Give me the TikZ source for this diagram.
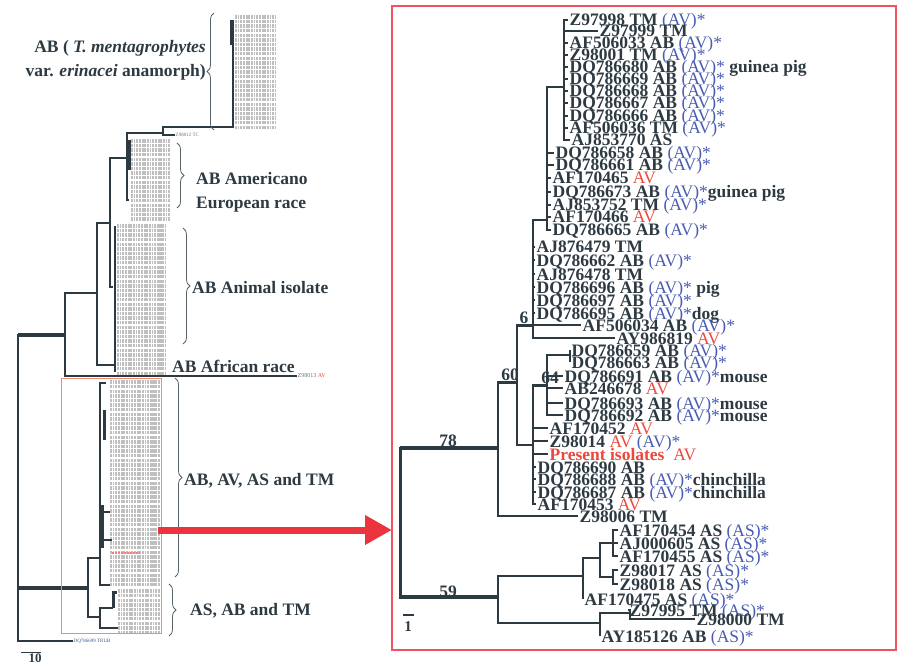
\documentclass[tikz,border=0pt]{standalone}
\usepackage{fontspec}
\setmainfont{Liberation Serif}
\usetikzlibrary{arrows.meta,decorations.pathreplacing}

\definecolor{treeink}{RGB}{45,58,66}
\definecolor{tagblue}{RGB}{72,92,178}
\definecolor{tagred}{RGB}{236,72,60}
\definecolor{framered}{RGB}{238,84,96}
\definecolor{arrowred}{RGB}{236,52,62}
\definecolor{boxline}{RGB}{242,140,112}

\newcommand{\tagav}{\textcolor{tagblue}{\mdseries\ (AV)*}}
\newcommand{\tagas}{\textcolor{tagblue}{\mdseries\ (AS)*}}
\newcommand{\redav}{\textcolor{tagred}{\mdseries AV}}
\newcommand{\leaffont}{\fontsize{17.5}{17.5}\selectfont\bfseries}
\newcommand{\grpfont}{\fontsize{17.5}{24}\selectfont\bfseries}

\tikzset{
  br/.style={draw=treeink, line width=1.6pt},
  stem/.style={draw=treeink, line width=3.8pt},
  leaf/.style={anchor=west, inner xsep=1.5pt, inner ysep=0pt, font=\leaffont,
    text=treeink, text height=12pt, text depth=0pt},
  boot/.style={font=\leaffont, text=treeink, inner sep=0pt},
  grp/.style={font=\grpfont, text=treeink, inner sep=0pt, anchor=west},
  tiny/.style={font=\fontsize{5}{5}\selectfont, text=treeink!70, inner sep=0.5pt, anchor=west},
  brace/.style={decorate, decoration={brace, amplitude=7pt}, draw=treeink!80, line width=0.8pt},
  ink/.style={draw=gray!50, line width=3.4pt, dash pattern=on 2.1pt off 0.7pt on 1.6pt off 0.9pt},
}

\begin{document}
\begin{tikzpicture}[x=1pt, y=-1pt]
    \useasboundingbox (0,0) rectangle (898,666);

    % ---- left: whole tree ----
    \coordinate (L0) at (18,500);  \coordinate (La) at (65,335);
    \coordinate (Lb) at (88,588);  \coordinate (Lc) at (97,293);
    \coordinate (Ld) at (110,223); \coordinate (Ld2) at (113,287);
    \coordinate (Lafr) at (115,365);
    \coordinate (Le) at (127,158); \coordinate (Le2) at (129,200);
    \coordinate (Lf) at (163,133); \coordinate (Lg) at (228,127);
    \coordinate (Lg1) at (233,20);
    \coordinate (Lh) at (100,558); \coordinate (Lh1) at (106,383);
    \coordinate (Lh2) at (110,585);
    \coordinate (Li) at (100,617); \coordinate (Lj) at (113,608);
    \coordinate (Lj1) at (117,592); \coordinate (Lk) at (118,628);

    % label blocks (unreadable leaf names)
    \foreach \xa/\xb/\ya/\n in {235/276/17/24, 131/170/141/17, 117/165/226/32,
                                110/160/382/44, 118/160/591/9}
        \foreach \k in {0,...,\n}
            \draw[ink] (\xa,{\ya+4.6*\k}) -- (\xb,{\ya+4.6*\k});
    \draw[draw=tagred!70, line width=2pt, dash pattern=on 2pt off 1pt] (112,553) -- (140,553);

    \node[tiny] (Z98012) at (175,135) {Z98012 TC};
    \node[tiny, font=\fontsize{6}{6}\selectfont] (Z98013) at (297,376) {Z98013 \textcolor{tagred}{AV}};
    \node[tiny, text=tagblue!70!treeink] (DQ786699) at (73,641) {DQ786699 TRUB};

    \draw[br, line width=2.4pt] (L0) |- (La);
    \draw[br, line width=2.4pt] (L0) |- (Lb);
    \draw[br] (L0) |- (DQ786699.west);
    \draw[stem, line width=4.5pt] (L0 |- La) -- (La);
    \draw[stem, line width=4.5pt] (L0 |- Lb) -- (Lb);
    \draw[br] (La) |- (Lc);  \draw[br] (La) |- (Z98013.west);
    \draw[br] (Lc) |- (Ld);  \draw[br] (Lc) |- (Lafr);
    \draw[br] (Lafr) ++(0,-5) -- ++(0,10);
    \draw[br] (Ld) |- (Le);  \draw[br] (Ld) |- (Ld2);
    \draw[br] (Le) |- (Lf);  \draw[br] (Le) |- (Le2);
    \draw[br] (Lf) |- (Lg);  \draw[br] (Lf) |- (Z98012.west);
    \draw[br] (Lg) -- (Lg -| Lg1) |- (Lg1);
    \draw[stem, line width=3pt] (231,20) -- (231,45);
    \draw[stem, line width=3pt] (129,140) -- (129,170);
    \draw[br] (115,226) -- (115,372);
    \draw[br] (Lb) |- (Lh);  \draw[br] (Lb) |- (Li);
    \draw[br] (Lh) |- (Lh1); \draw[br] (Lh) |- (Lh2);
    \draw[stem, line width=3pt] (104,410) -- (104,440);
    \draw[stem, line width=3pt] (102,505) -- (102,548);
    \draw[br] (102,512) -- (110,512);  \draw[br] (102,540) -- (112,540);
    \draw[br] (Li) |- (Lj);  \draw[br] (Li) |- (Lk);
    \draw[stem, line width=3pt] (Lj) |- (Lj1);

    \draw[draw=boxline, line width=0.7pt] (61,378) rectangle (161,633);

    % group labels and braces
    \node[grp, align=right, anchor=east] (tmlab) at (206,60)
        {AB ( \textit{T. mentagrophytes}\\var. \textit{erinacei} anamorph)};
    \draw[brace] (214,130) -- (214,13);
    \node[grp, align=left] (amlab) at (196,192) {AB Americano\\European race};
    \draw[brace] (177,143) -- (177,208);
    \node[grp] (anlab) at (192,288) {AB Animal isolate};
    \draw[brace] (183,228) -- (183,344);
    \node[grp] (aflab) at (172,366) {AB African race};
    \node[grp] (avlab) at (184,481) {AB, AV, AS and TM};
    \draw[brace] (175,378) -- (175,577);
    \node[grp] (aslab) at (190,611) {AS, AB and TM};
    \draw[brace] (169,584) -- (169,636);

    \draw[br, line width=1pt] (21,652) -- (41,652);
    \node[boot, font=\fontsize{13}{13}\selectfont\bfseries] (s10) at (35,658) {10};

    % ---- right: enlarged clade ----
    \draw[draw=framered, line width=2.6pt] (392,6) rectangle (896,650);

    \node[leaf] (Z97998) at (568,20) {Z97998 TM\tagav};
    \node[leaf] (Z97999) at (598,31) {Z97999 TM};
    \node[leaf] (AF506033) at (568,43) {AF506033 AB\tagav};
    \node[leaf] (Z98001) at (568,55) {Z98001 TM\tagav};
    \node[leaf] (DQ786680) at (568,67) {DQ786680 AB\tagav\ guinea pig};
    \node[leaf] (DQ786669) at (568,79) {DQ786669 AB\tagav};
    \node[leaf] (DQ786668) at (568,91) {DQ786668 AB\tagav};
    \node[leaf] (DQ786667) at (568,103) {DQ786667 AB\tagav};
    \node[leaf] (DQ786666) at (568,116) {DQ786666 AB\tagav};
    \node[leaf] (AF506036) at (568,128) {AF506036 TM\tagav};
    \node[leaf] (AJ853770) at (570,140) {AJ853770 AS};
    \node[leaf] (DQ786658) at (554,153) {DQ786658 AB\tagav};
    \node[leaf] (DQ786661) at (554,165) {DQ786661 AB\tagav};
    \node[leaf] (AF170465) at (551,178) {AF170465 \redav};
    \node[leaf] (DQ786673) at (551,192) {DQ786673 AB\tagav guinea pig};
    \node[leaf] (AJ853752) at (551,205) {AJ853752 TM\tagav};
    \node[leaf] (AF170466) at (551,217) {AF170466 \redav};
    \node[leaf] (DQ786665) at (551,230) {DQ786665 AB\tagav};
    \node[leaf] (AJ876479) at (535,247) {AJ876479 TM};
    \node[leaf] (DQ786662) at (535,260) {DQ786662 AB\tagav};
    \node[leaf] (AJ876478) at (535,274) {AJ876478 TM};
    \node[leaf] (DQ786696) at (535,287) {DQ786696 AB\tagav\ pig};
    \node[leaf] (DQ786697) at (535,300) {DQ786697 AB\tagav};
    \node[leaf] (DQ786695) at (535,313) {DQ786695 AB\tagav dog};
    \node[leaf] (AF506034) at (581,325) {AF506034 AB\tagav};
    \node[leaf] (AY986819) at (615,338) {AY986819 \redav};
    \node[leaf] (DQ786659) at (570,350) {DQ786659 AB\tagav};
    \node[leaf] (DQ786663) at (570,362) {DQ786663 AB\tagav};
    \node[leaf] (DQ786691) at (563,376) {DQ786691 AB\tagav mouse};
    \node[leaf] (AB246678) at (563,388) {AB246678 \redav};
    \node[leaf] (DQ786693) at (563,403) {DQ786693 AB\tagav mouse};
    \node[leaf] (DQ786692) at (563,415) {DQ786692 AB\tagav mouse};
    \node[leaf] (AF170452) at (548,428) {AF170452 \redav};
    \node[leaf] (Z98014) at (548,441) {Z98014 \redav\tagav};
    \node[leaf, text=tagred] (present) at (548,454) {Present isolates\ \ {\mdseries AV}};
    \node[leaf] (DQ786690) at (536,467) {DQ786690 AB};
    \node[leaf] (DQ786688) at (536,479) {DQ786688 AB\tagav chinchilla};
    \node[leaf] (DQ786687) at (536,492) {DQ786687 AB\tagav chinchilla};
    \node[leaf] (AF170453) at (536,504) {AF170453 \redav};
    \node[leaf] (Z98006) at (578,516) {Z98006 TM};
    \node[leaf] (AF170454) at (618,530) {AF170454 AS\tagas};
    \node[leaf] (AJ000605) at (618,543) {AJ000605 AS\tagas};
    \node[leaf] (AF170455) at (618,556) {AF170455 AS\tagas};
    \node[leaf] (Z98017) at (618,570) {Z98017 AS\tagas};
    \node[leaf] (Z98018) at (618,584) {Z98018 AS\tagas};
    \node[leaf] (AF170475) at (583,599) {AF170475 AS\tagas};
    \node[leaf] (Z97995) at (628,610) {Z97995 TM\tagas};
    \node[leaf] (Z98000) at (695,619) {Z98000 TM};
    \node[leaf] (AY185126) at (600,636) {AY185126 AB\tagas};

    \coordinate (r) at (400,520);
    \coordinate (n78) at (498,448);  \coordinate (n59) at (498,597);
    \coordinate (n60) at (517,382);  \coordinate (n6) at (533,325);
    \coordinate (nPI) at (533,445);  \coordinate (n64) at (547,385);
    \coordinate (nA) at (547,220);   \coordinate (nB) at (564,87);
    \coordinate (nC) at (570,355);
    \coordinate (nAS) at (583,576);  \coordinate (nAS1) at (600,558);
    \coordinate (nAS2) at (613,543); \coordinate (nAS3) at (613,577);
    \coordinate (nT) at (600,623);   \coordinate (nT1) at (630,613);

    \draw[br, line width=3pt] (r) |- (n78);
    \draw[br, line width=3pt] (r) |- (n59);
    \draw[stem] (r |- n78) -- (n78);
    \draw[stem] (r |- n59) -- (n59);
    \draw[br] (n78) |- (n60);  \draw[br] (n78) |- (Z98006.west);
    \draw[stem, line width=3pt] (n78 |- n60) -- (n60);
    \draw[br] (n60) |- (n6);   \draw[br] (n60) |- (nPI);
    \draw[stem, line width=3pt] (n60 |- n6) -- (n6);
    \draw[br] (n6) |- (nA);
    \draw[br] (nA) |- (nB);
    \draw[br] (nPI) |- (n64);
    \draw[stem, line width=3pt] (nPI |- n64) -- (n64);
    \draw[br] (n64) |- (nC);
    \draw[br] (n59) |- (nAS);  \draw[br] (n59) |- (nT);
    \draw[br] (nAS) |- (nAS1);
    \draw[br] (nAS1) |- (nAS2); \draw[br] (nAS1) |- (nAS3);
    \draw[br] (nT) |- (nT1);

    \foreach \p/\c in {nB/Z97998, nB/Z97999, nB/AF506033, nB/Z98001, nB/DQ786680,
        nB/DQ786669, nB/DQ786668, nB/DQ786667, nB/DQ786666, nB/AF506036, nB/AJ853770,
        nA/DQ786658, nA/DQ786661, nA/AF170465, nA/DQ786673, nA/AJ853752, nA/AF170466,
        nA/DQ786665, n6/AJ876479, n6/DQ786662, n6/AJ876478, n6/DQ786696, n6/DQ786697,
        n6/DQ786695, n6/AF506034, n6/AY986819, nC/DQ786659, nC/DQ786663,
        n64/DQ786691, n64/AB246678, n64/DQ786693, n64/DQ786692,
        nPI/AF170452, nPI/Z98014, nPI/present, nPI/DQ786690, nPI/DQ786688,
        nPI/DQ786687, nPI/AF170453, nAS2/AF170454, nAS2/AJ000605, nAS2/AF170455,
        nAS3/Z98017, nAS3/Z98018, nAS/AF170475, nT1/Z97995, nT1/Z98000, nT/AY185126}
        \draw[br] (\p) |- (\c.west);

    \node[boot] (b78) at (448,441) {78};
    \node[boot] (b59) at (448,592) {59};
    \node[boot] (b60) at (510,375) {60};
    \node[boot] (b64) at (550,378) {64};
    \node[boot] (b6) at (524,318) {6};

    \draw[br] (403,615) -- (414,615);
    \node[boot, font=\fontsize{15}{15}\selectfont\bfseries] (s1) at (408,627) {1};

    % ---- arrow from the small box to the enlargement ----
    \coordinate (arrS) at (158,530);
    \coordinate (arrE) at (392,530);
    \draw[draw=arrowred, line width=7pt, -{Triangle[length=27pt, width=28pt]}] (arrS) -- (arrE);
\end{tikzpicture}
\end{document}
